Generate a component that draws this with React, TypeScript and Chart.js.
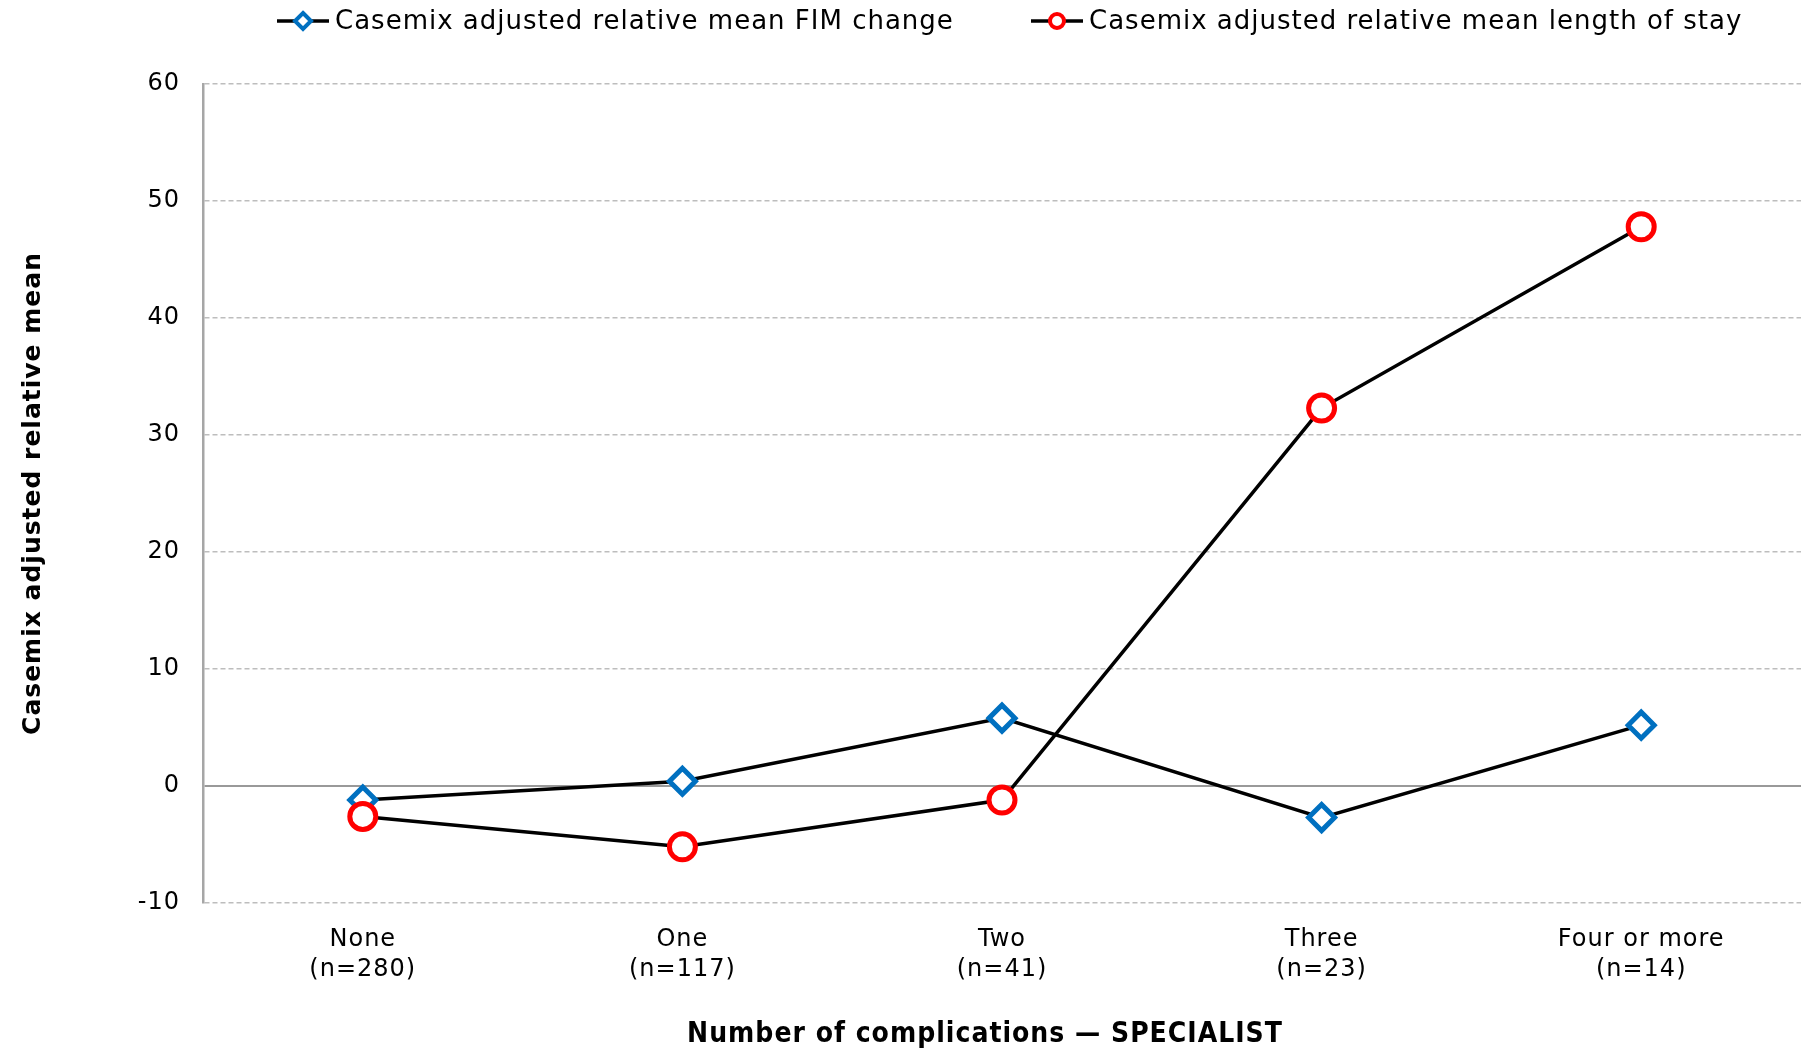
import React, { useEffect, useRef } from "react";
import { Chart, registerables } from "chart.js";

Chart.register(...registerables);

const categories: string[][] = [
  ["None", "(n=280)"],
  ["One", "(n=117)"],
  ["Two", "(n=41)"],
  ["Three", "(n=23)"],
  ["Four or more", "(n=14)"],
];
const fimChange: number[] = [-1.2, 0.4, 5.8, -2.7, 5.2];
const lengthOfStay: number[] = [-2.6, -5.2, -1.2, 32.3, 47.8];
const seriesLabels: string[] = [
  "Casemix adjusted relative mean FIM change",
  "Casemix adjusted relative mean length of stay",
];
const yTitle = "Casemix adjusted relative mean";
const xTitle = "Number of complications \u2014 SPECIALIST";

const BLUE = "#0070C0";
const RED = "#FF0000";
const SANS = "'DejaVu Sans', sans-serif";
const COND = "'DejaVu Sans Condensed', 'DejaVu Sans', sans-serif";

const spacingPlugin = {
  id: "letterSpacing",
  beforeLayout(chart: any) {
    (chart.ctx as any).letterSpacing = "1px";
  },
  beforeDraw(chart: any) {
    (chart.ctx as any).letterSpacing = "1px";
  },
};

const legendPlugin = {
  id: "customLegend",
  afterDraw(chart: any) {
    const ctx = chart.ctx as CanvasRenderingContext2D;
    const y = 21;
    const items = [
      { x: 303, text: seriesLabels[0], kind: "diamond", tx: 335 },
      { x: 1057, text: seriesLabels[1], kind: "circle", tx: 1089 },
    ];
    ctx.save();
    for (const it of items) {
      ctx.setLineDash([]);
      ctx.strokeStyle = "#000";
      ctx.lineWidth = 3.5;
      ctx.beginPath();
      ctx.moveTo(it.x - 26, y);
      ctx.lineTo(it.x + 26, y);
      ctx.stroke();
      ctx.fillStyle = "#fff";
      ctx.lineWidth = 4;
      ctx.beginPath();
      if (it.kind === "diamond") {
        const r = 8;
        ctx.strokeStyle = BLUE;
        ctx.moveTo(it.x, y - r);
        ctx.lineTo(it.x + r, y);
        ctx.lineTo(it.x, y + r);
        ctx.lineTo(it.x - r, y);
        ctx.closePath();
      } else {
        ctx.strokeStyle = RED;
        ctx.arc(it.x, y, 7, 0, Math.PI * 2);
      }
      ctx.fill();
      ctx.stroke();
      ctx.fillStyle = "#000";
      (ctx as any).letterSpacing = "1px";
      ctx.font = `26px ${SANS}`;
      ctx.textBaseline = "middle";
      ctx.textAlign = "left";
      ctx.fillText(it.text, it.tx, y + 1);
    }
    // x-axis title (slightly left of plot centre, as in the original)
    (ctx as any).letterSpacing = "1px";
    ctx.font = `bold 28px ${COND}`;
    ctx.textAlign = "center";
    ctx.textBaseline = "middle";
    ctx.fillStyle = "#000";
    ctx.fillText(xTitle, 985, 1035);
    ctx.restore();
  },
};

export default function App() {
  const ref = useRef<HTMLCanvasElement>(null);
  useEffect(() => {
    document.body.style.margin = "0";
    const chart = new Chart(ref.current as HTMLCanvasElement, {
      type: "line",
      data: {
        labels: categories,
        datasets: [
          {
            label: seriesLabels[0],
            data: fimChange,
            borderColor: "#000",
            borderWidth: 3.5,
            pointStyle: "rectRot",
            pointRadius: 13,
            pointBorderWidth: 5,
            pointBorderColor: BLUE,
            pointBackgroundColor: "#fff",
            tension: 0,
            order: 1,
          },
          {
            label: seriesLabels[1],
            data: lengthOfStay,
            borderColor: "#000",
            borderWidth: 3.5,
            pointStyle: "circle",
            pointRadius: 13,
            pointBorderWidth: 5,
            pointBorderColor: RED,
            pointBackgroundColor: "#fff",
            tension: 0,
            order: 0,
          },
        ],
      },
      options: {
        animation: false,
        responsive: true,
        maintainAspectRatio: false,
        layout: { autoPadding: false, padding: { top: 84, left: 0, right: 0, bottom: 0 } },
        plugins: {
          legend: { display: false },
          tooltip: { enabled: false },
        },
        scales: {
          x: {
            offset: true,
            grid: { display: false, drawTicks: false },
            border: { display: false },
            ticks: {
              color: "#000",
              padding: 22,
              font: { family: SANS, size: 24, lineHeight: 1.25 },
              maxRotation: 0,
              autoSkip: false,
            },
            title: { display: false, text: xTitle },
            afterFit(scale: any) {
              scale.height = 148;
              scale.paddingRight = 0;
              scale.paddingLeft = 0;
            },
          },
          y: {
            min: -10,
            max: 60,
            ticks: {
              stepSize: 10,
              color: "#000",
              padding: 23,
              font: { family: SANS, size: 24 },
            },
            grid: {
              drawTicks: false,
              color: (c: any) => (c.tick && c.tick.value === 0 ? "#999999" : "#bdbdbd"),
              lineWidth: (c: any) => (c.tick && c.tick.value === 0 ? 2 : 1.5),
            },
            border: {
              display: true,
              color: "#a6a6a6",
              width: 2.5,
              dash: (c: any) => (c.tick && c.tick.value !== 0 ? [5, 3] : []),
            },
            title: {
              display: true,
              text: yTitle,
              color: "#000",
              font: { family: SANS, size: 25, weight: "bold", lineHeight: 1.2 },
              padding: { top: 18, bottom: 0 },
            },
            afterFit(scale: any) {
              scale.width = 203;
            },
          },
        },
      },
      plugins: [spacingPlugin, legendPlugin],
    });
    return () => chart.destroy();
  }, []);
  return (
    <div style={{ position: "fixed", left: 0, top: 0, width: 1801, height: 1051 }}>
      <canvas ref={ref} />
    </div>
  );
}
